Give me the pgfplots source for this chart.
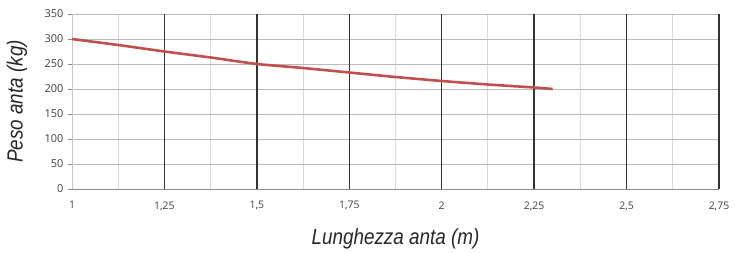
\documentclass[border=0pt]{standalone}
\usepackage{fontspec}
\setmainfont{Open Sans}
\newfontfamily\labfont[FakeStretch=0.86]{Liberation Sans}
\usepackage{pgfplots}
\pgfplotsset{compat=1.18}
\definecolor{lc}{HTML}{C0504D}
\definecolor{tk}{HTML}{404040}
\begin{document}
\begin{tikzpicture}
\begin{axis}[
  name=ax,
  scale only axis,
  width=647bp, height=175bp,
  xmin=1, xmax=2.75, ymin=0, ymax=350,
  axis x line*=bottom, axis y line*=left,
  x axis line style={draw=black!45, line width=0.8pt, -},
  y axis line style={draw=black!22, line width=0.8pt, -},
  xtick={1,1.25,1.5,1.75,2,2.25,2.5,2.75},
  xticklabels={1,{1,25},{1,5},{1,75},2,{2,25},{2,5},{2,75}},
  ytick={0,50,...,350},
  minor x tick num=1,
  xminorgrids=true,
  minor x grid style={draw=black!15, line width=0.9pt},
  ymajorgrids=true,
  major y grid style={draw=black!27, line width=0.9pt},
  extra x ticks={1.25,1.5,1.75,2,2.25,2.5,2.75},
  extra x tick labels={},
  extra x tick style={grid=major, major grid style={draw=black!80, line width=1.4pt}, major tick length=0pt},
  x tick style={draw=none},
  minor x tick style={draw=none},
  y tick style={draw=black!45, line width=0.8pt},
  tick align=outside,
  major tick length=4bp,
  /pgf/number format/assume math mode=true,
  x tick label style={font=\fontsize{10.5}{12}\selectfont, text=tk, yshift=-5bp},
  y tick label style={font=\fontsize{11}{13}\selectfont, text=tk, xshift=-1bp},
  xlabel={\labfont\itshape Lunghezza anta (m)},
  ylabel={\labfont\itshape Peso anta (kg)},
  xlabel style={font=\fontsize{22}{26}\selectfont, text=black!85, at={(axis description cs:0.5,-0.285)}, anchor=center},
  ylabel style={font=\fontsize{22}{26}\selectfont, text=black!85, at={(axis description cs:-0.085,0.5)}, anchor=center},
  clip=false,
]
\addplot[color=lc, line width=2.6pt, smooth, tension=0.3] coordinates {
(1,300) (1.125,288) (1.25,275) (1.375,263) (1.5,250) (1.625,242) (1.75,233)
(1.875,224) (2,216) (2.125,209) (2.25,203) (2.3,200)
};
\end{axis}
\pgfresetboundingbox
\path[use as bounding box] ([xshift=-72bp,yshift=-64bp]ax.south west) rectangle ([xshift=16bp,yshift=14bp]ax.north east);
\end{tikzpicture}
\end{document}
